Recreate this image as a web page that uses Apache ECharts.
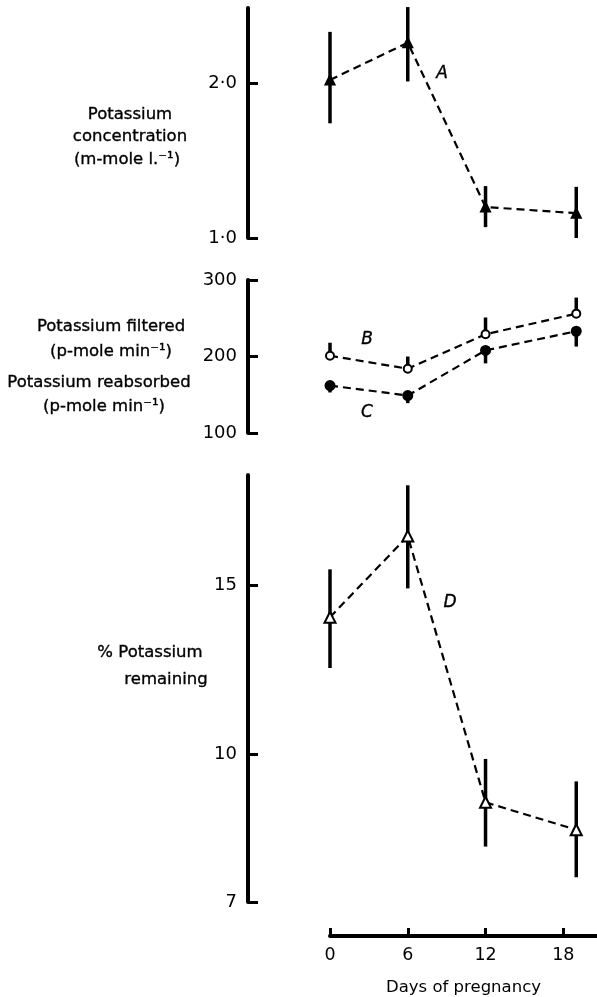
<!DOCTYPE html>
<html><head><meta charset="utf-8">
<script src="https://cdn.jsdelivr.net/npm/echarts@6/dist/echarts.min.js"></script>
<style>html,body{margin:0;padding:0;background:#fff}#c{width:597px;height:997px}</style>
</head><body><div id="c"></div>
<script>
// Days of pregnancy (x positions of the points)
const days = [0, 6, 12, 19];
const xTicks = [0, 6, 12, 18];

// A: Potassium concentration (m-mole l.^-1)
const concMean = [2.02, 2.26, 1.20, 1.16];
const concLow  = [1.74, 2.01, 1.07, 1.00];
const concHigh = [2.33, 2.49, 1.335, 1.33];
const concTicks = [1, 2];

// B: Potassium filtered (p-mole min^-1), upper error only
const filtMean = [201, 184, 229, 256];
const filtHigh = [218, 200, 251, 277];
// C: Potassium reabsorbed (p-mole min^-1), lower error only
const reabMean = [162, 149, 208, 233];
const reabLow  = [153, 139, 191, 213];
const fluxTicks = [100, 200, 300];

// D: % Potassium remaining (log scale)
const remMean = [13.9, 16.9, 8.9, 8.33];
const remLow  = [12.3, 14.9, 8.0, 7.43];
const remHigh = [15.6, 19.1, 9.88, 9.36];
const remTicks = [7, 10, 15];

const INK = '#000';
const FONT = 'DejaVu Sans';

function errSeries(xi, lo, hi) {
  return {
    type: 'custom', xAxisIndex: xi, yAxisIndex: xi, silent: true, z: 2, clip: false,
    data: days.map((d, i) => [d, lo[i], hi[i]]),
    encode: { x: 0, y: [1, 2] },
    renderItem: (params, api) => {
      const p1 = api.coord([api.value(0), api.value(1)]);
      const p2 = api.coord([api.value(0), api.value(2)]);
      return { type: 'line', shape: { x1: p1[0], y1: p1[1], x2: p2[0], y2: p2[1] },
               style: { stroke: INK, lineWidth: 3.5 } };
    }
  };
}
function lineSeries(xi, vals, symbol, size, filled) {
  return {
    type: 'line', xAxisIndex: xi, yAxisIndex: xi, z: 3,
    data: days.map((d, i) => [d, vals[i]]),
    symbol: symbol, symbolSize: size, showSymbol: true,
    lineStyle: { color: INK, width: 2.2, type: [8, 5] },
    itemStyle: { color: filled ? INK : '#fff', borderColor: INK, borderWidth: 2 }
  };
}
function yAx(gi, extra) {
  return Object.assign({
    gridIndex: gi, position: 'left', offset: 82,
    axisLine: { show: true, onZero: false, lineStyle: { color: INK, width: 4 } },
    axisTick: { show: true, inside: true, length: 10, lineStyle: { color: INK, width: 3 } },
    axisLabel: { color: INK, fontSize: 18, fontFamily: FONT, margin: 11 },
    splitLine: { show: false }
  }, extra);
}
function xHidden(gi) {
  return { gridIndex: gi, type: 'value', min: 0, max: 20.6, show: false };
}
function txt(x, y, t, size, italic) {
  return { type: 'text', x: x, y: y, silent: true,
    style: { text: t, fill: INK, align: 'center', verticalAlign: 'middle',
             stroke: INK, lineWidth: 0.35,
             font: (italic ? 'italic ' : '') + size + 'px "' + FONT + '"' } };
}

const chart = echarts.init(document.getElementById('c'), null, { renderer: 'canvas' });
chart.setOption({
  animation: false,
  backgroundColor: '#fff',
  grid: [
    { left: 330, right: 0, top: 8, height: 230 },
    { left: 330, right: 0, top: 280, height: 153 },
    { left: 330, right: 0, top: 475, height: 432 }
  ],
  xAxis: [
    xHidden(0), xHidden(1),
    { gridIndex: 2, type: 'value', min: 0, max: 20.6, position: 'bottom', offset: 34,
      axisLine: { onZero: false, lineStyle: { color: INK, width: 4 } },
      axisTick: { inside: true, length: 8, lineStyle: { color: INK, width: 3 }, customValues: xTicks },
      axisLabel: { customValues: xTicks, color: INK, fontSize: 17.5, fontFamily: FONT, margin: 10 },
      splitLine: { show: false },
      name: 'Days of pregnancy', nameLocation: 'middle', nameGap: 43,
      nameTextStyle: { color: INK, fontSize: 16.5, fontFamily: FONT } }
  ],
  yAxis: [
    yAx(0, { type: 'value', min: 1, max: 2.484,
      axisTick: { show: true, inside: true, length: 10, lineStyle: { color: INK, width: 3 }, customValues: concTicks },
      axisLabel: { customValues: concTicks, color: INK, fontSize: 18, fontFamily: FONT, margin: 11,
                   formatter: v => v.toFixed(1).replace('.', '\u00b7') } }),
    yAx(1, { type: 'value', min: 100, max: 300, interval: 100 }),
    yAx(2, { type: 'log', min: 7, max: 19.58,
      axisTick: { show: true, inside: true, length: 10, lineStyle: { color: INK, width: 3 }, customValues: remTicks },
      axisLabel: { customValues: remTicks, color: INK, fontSize: 18, fontFamily: FONT, margin: 11 } })
  ],
  series: [
    errSeries(0, concLow, concHigh),
    lineSeries(0, concMean, 'triangle', 9, true),
    errSeries(1, filtMean, filtHigh),
    lineSeries(1, filtMean, 'circle', 8, false),
    errSeries(1, reabLow, reabMean),
    lineSeries(1, reabMean, 'circle', 9, true),
    errSeries(2, remLow, remHigh),
    lineSeries(2, remMean, 'triangle', 11, false)
  ],
  graphic: [
    txt(130, 115, 'Potassium', 16.5),
    txt(130, 137, 'concentration', 16.5),
    txt(127, 160, '(m-mole l.\u207b\u00b9)', 16.5),
    txt(111, 327, 'Potassium filtered', 16.5),
    txt(111, 352, '(p-mole min\u207b\u00b9)', 16.5),
    txt(99, 383, 'Potassium reabsorbed', 16.5),
    txt(104, 407, '(p-mole min\u207b\u00b9)', 16.5),
    txt(150, 653, '% Potassium', 16.5),
    txt(166, 680, 'remaining', 16.5),
    txt(442, 74, 'A', 17, true),
    txt(367, 340, 'B', 17, true),
    txt(367, 413, 'C', 17, true),
    txt(450, 603, 'D', 17, true)
  ]
});
</script>
</body></html>
